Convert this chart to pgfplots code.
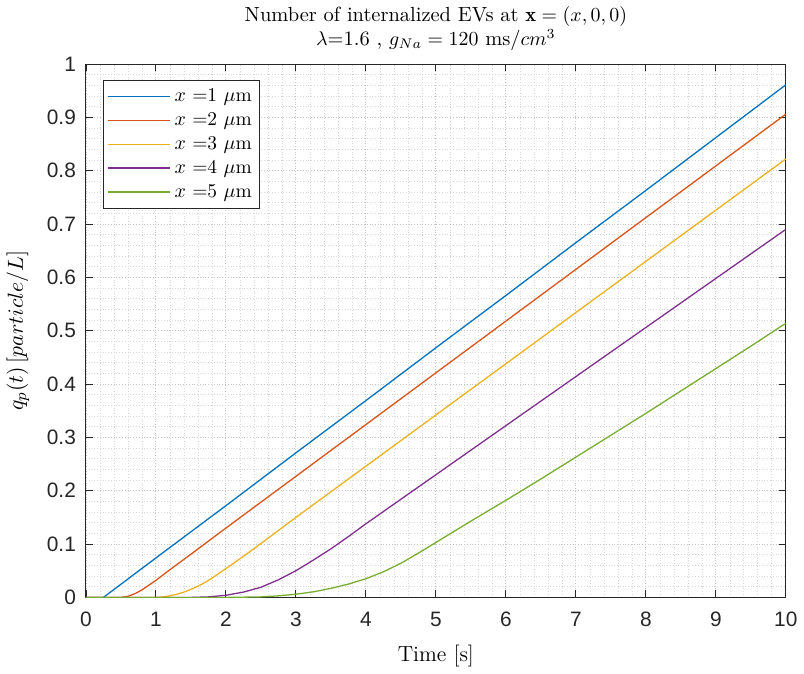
\documentclass[border=0pt]{standalone}
\usepackage{pgfplots}
\pgfplotsset{compat=1.18}
\usepackage{fontspec}
\newfontfamily\tickfont{Liberation Sans}
\definecolor{c1}{rgb}{0,0.447,0.741}
\definecolor{c2}{rgb}{0.85,0.325,0.098}
\definecolor{c3}{rgb}{0.929,0.694,0.125}
\definecolor{c4}{rgb}{0.494,0.184,0.556}
\definecolor{c5}{rgb}{0.466,0.674,0.188}
\definecolor{axgray}{rgb}{0.15,0.15,0.15}
\begin{document}
\begin{tikzpicture}
\begin{axis}[
  scale only axis,
  width=351bp, height=267.5bp,
  xmin=0, xmax=10, ymin=0, ymax=1,
  xtick={0,1,...,10},
  ytick={0,0.1,0.2,0.3,0.4,0.5,0.6,0.7,0.8,0.9,1},
  yticklabels={0,0.1,0.2,0.3,0.4,0.5,0.6,0.7,0.8,0.9,1},
  minor tick num=4,
  tick align=inside,
  major tick length=3.5bp,
  minor tick length=0pt,
  tick style={axgray, line width=0.4pt},
  axis line style={axgray, line width=0.5pt},
  grid=both,
  major grid style={densely dotted, gray!45, line width=0.4pt},
  minor grid style={densely dotted, gray!30, line width=0.3pt},
  ticklabel style={font=\tickfont\fontsize{10.5}{12}\selectfont, text=axgray},
  xticklabel style={yshift=-4bp},
  yticklabel style={xshift=-1.5bp},
  /pgf/number format/assume math mode=true,
  title style={align=center, font=\fontsize{10.3}{12.3}\selectfont, yshift=-3pt},
  title={Number of internalized EVs at $\mathbf{x}=(x,0,0)$\\$\lambda$=1.6 , $g_{Na}=120$ ms/$cm^3$},
  xlabel={Time [s]},
  ylabel={$q_p(t)\,[particle/L]$},
  label style={font=\fontsize{11}{13}\selectfont},
  xlabel style={yshift=-2pt},
  ylabel style={yshift=2pt},
  legend style={at={(0.024,0.97)}, anchor=north west, draw=axgray, fill=white,
    font=\fontsize{9.8}{12}\selectfont, cells={anchor=west}, inner sep=2pt, row sep=0pt},
  legend image code/.code={\draw[mark repeat=2,mark phase=2,#1] plot coordinates {(0cm,0cm) (0.55cm,0cm) (1.1cm,0cm)};},
  every axis plot/.append style={line width=0.65pt},
]
\addplot[c1] coordinates {(0,0) (0.25,0) (1,0.074) (2,0.172) (3,0.271) (4,0.369) (5,0.468) (6,0.566) (7,0.665) (8,0.763) (9,0.862) (10,0.961)};
\addlegendentry{$x$ =1 $\mu$m}
\addplot[c2] coordinates {(0,0) (0.5,0) (0.6,0.002) (0.7,0.007) (0.8,0.014) (0.9,0.023) (1.0,0.032) (1.1,0.042) (1.2,0.052) (1.5,0.081) (2,0.13) (3,0.227) (4,0.324) (5,0.421) (6,0.518) (7,0.615) (8,0.712) (9,0.809) (10,0.906)};
\addlegendentry{$x$ =2 $\mu$m}
\addplot[c3] coordinates {(0,0) (1.0,0) (1.1,0.001) (1.2,0.003) (1.3,0.006) (1.4,0.010) (1.5,0.015) (1.6,0.021) (1.7,0.028) (1.8,0.036) (1.9,0.045) (2.0,0.054) (2.25,0.077) (2.5,0.101) (3,0.150) (4,0.246) (5,0.342) (6,0.438) (7,0.534) (8,0.630) (9,0.726) (10,0.822)};
\addlegendentry{$x$ =3 $\mu$m}
\addplot[c4] coordinates {(0,0) (1.5,0) (1.75,0.001) (2,0.004) (2.25,0.010) (2.5,0.019) (2.75,0.033) (3,0.050) (3.25,0.070) (3.5,0.091) (3.75,0.114) (4,0.138) (4.5,0.184) (5,0.230) (6,0.322) (7,0.414) (8,0.506) (9,0.598) (10,0.690)};
\addlegendentry{$x$ =4 $\mu$m}
\addplot[c5] coordinates {(0,0) (2,0) (2.5,0.001) (2.75,0.003) (3,0.006) (3.25,0.0105) (3.5,0.017) (3.75,0.025) (4,0.035) (4.25,0.048) (4.5,0.064) (4.75,0.083) (5,0.103) (5.25,0.123) (5.5,0.143) (6,0.182) (6.5,0.222) (7,0.263) (7.5,0.304) (8,0.345) (8.5,0.387) (9,0.429) (9.5,0.471) (10,0.514)};
\addlegendentry{$x$ =5 $\mu$m}
\end{axis}
\end{tikzpicture}
\end{document}
